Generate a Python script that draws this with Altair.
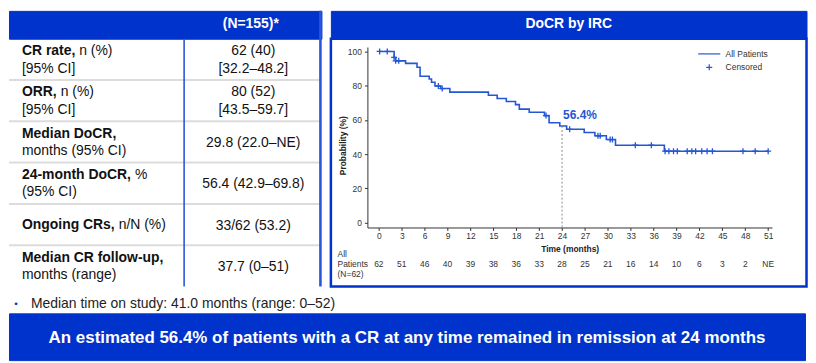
import altair as alt
import pandas as pd

# ---------------- data ----------------
header_text = "(N=155)*"
row_names = ["CR rate", "ORR", "Median DoCR", "24-month DoCR", "Ongoing CRs", "Median CR follow-up"]
label_bold = ["CR rate,", "ORR,", "Median DoCR,", "24-month DoCR,", "Ongoing CRs,", "Median CR follow-up,"]
label_normal = ["n (%)", "n (%)", "", "%", "n/N (%)", ""]
label_line2 = ["[95% CI]", "[95% CI]", "months (95% CI)", "(95% CI)", "", "months (range)"]
value_line1 = ["62 (40)", "80 (52)", "29.8 (22.0–NE)", "56.4 (42.9–69.8)", "33/62 (53.2)", "37.7 (0–51)"]
value_line2 = ["[32.2–48.2]", "[43.5–59.7]", "", "", "", ""]

km_title = "DoCR by IRC"
step_times = [0, 2.0, 2.2, 3.5, 5.0, 5.4, 6.6, 6.9, 7.35, 8.1, 9.3, 14.35, 15.5, 16.7, 17.9, 18.4,
              19.7, 21.7, 22.3, 23.7, 24.6, 26.9, 28.3, 29.8, 31.0, 37.4, 51.0]
step_surv = [100, 96.5, 94.5, 93.0, 90.8, 85.5, 83.9, 82.0, 79.8, 78.3, 76.2, 74.4, 72.5, 70.7, 68.9, 66.3,
             64.5, 62.5, 58.3, 56.4, 54.5, 52.6, 50.7, 48.5, 45.2, 41.7, 41.7]
censor_times = [0.1, 1.1, 2.0, 2.2, 2.6, 7.8, 8.3, 21.9, 25.0, 28.7, 29.0, 30.3, 30.6, 33.6, 35.7,
                37.5, 38.0, 38.6, 39.1, 40.4, 41.0, 41.5, 42.3, 43.0, 43.7, 47.7, 49.3, 51.0]
landmark_time = 24
landmark_surv = 56.4
x_ticks = [0, 3, 6, 9, 12, 15, 18, 21, 24, 27, 30, 33, 36, 39, 42, 45, 48, 51]
y_ticks = [0, 20, 40, 60, 80, 100]
risk_counts = ["62", "51", "46", "40", "39", "38", "36", "33", "28", "25", "21", "16", "14", "10", "6", "3", "2", "NE"]
risk_group = ["All", "Patients", "(N=62)"]
legend_labels = ["All Patients", "Censored"]

note_text = "Median time on study: 41.0 months (range: 0–52)"
banner_text = "An estimated 56.4% of patients with a CR at any time remained in remission at 24 months"

# ---------------- style ----------------
BLUE = "#0033cc"
CURVE = "#2456d6"
FONT = "Liberation Sans"
INK = "#111111"
AX = "#333333"

AB = {' ': 278, ',': 278, '-': 333, '2': 556, '4': 556, 'C': 722, 'D': 722, 'O': 778, 'R': 722,
      'a': 556, 'e': 556, 'g': 611, 'h': 611, 'i': 278, 'm': 889, 'n': 611, 'o': 611, 'r': 389,
      's': 556, 't': 333}


def bold_w(s, fs=14):
    return sum(AB.get(ch, 600) for ch in s) * fs / 1000.0


SPACE_N = 278 * 14 / 1000.0
TABLE_H = 249
ROW_H = TABLE_H / len(row_names)

# ---------------- table ----------------
bold_recs, norm_recs, val_recs = [], [], []
for i, r in enumerate(row_names):
    c = i + 0.5
    two = label_line2[i] != ""
    y1 = -8.2 if two else 0.6
    bold_recs.append({"row": r, "text": label_bold[i], "xpos": 13.0, "ypos": c + y1 / ROW_H})
    if label_normal[i]:
        norm_recs.append({"row": r, "text": label_normal[i],
                          "xpos": 13.0 + bold_w(label_bold[i]) + SPACE_N, "ypos": c + y1 / ROW_H})
    if two:
        norm_recs.append({"row": r, "text": label_line2[i], "xpos": 13.0, "ypos": c + 9.3 / ROW_H})
    vtwo = value_line2[i] != ""
    val_recs.append({"row": r, "text": value_line1[i], "ypos": c + (-8.2 if vtwo else 1.2) / ROW_H})
    if vtwo:
        val_recs.append({"row": r, "text": value_line2[i], "ypos": c + 9.3 / ROW_H})

row_scale = alt.Scale(domain=[0, len(row_names)], range=[0, TABLE_H], nice=False, zero=False)
one = pd.DataFrame({"k": [0]})

sep = alt.Chart(pd.DataFrame({"edge": list(range(1, len(row_names)))})).mark_rule(
    color="#dcdcdc", strokeWidth=2).encode(
    y=alt.Y("edge:Q", scale=row_scale, axis=None), x=alt.value(0), x2=alt.value(314))
divider = alt.Chart(one).mark_rule(color="#2a55dd", strokeWidth=1.6).encode(
    x=alt.value(176), y=alt.value(0), y2=alt.value(TABLE_H))
border = alt.Chart(one).mark_rule(color="#2a55dd", strokeWidth=2.6).encode(
    x=alt.value(313), y=alt.value(-28), y2=alt.value(TABLE_H))
tb_bold = alt.Chart(pd.DataFrame(bold_recs)).mark_text(
    align="left", baseline="middle", fontSize=14, fontWeight="bold", color=INK, font=FONT).encode(
    x=alt.X("xpos:Q", scale=None, axis=None),
    y=alt.Y("ypos:Q", scale=row_scale, axis=None), text="text:N")
tb_norm = alt.Chart(pd.DataFrame(norm_recs)).mark_text(
    align="left", baseline="middle", fontSize=14, color=INK, font=FONT).encode(
    x=alt.X("xpos:Q", scale=None, axis=None),
    y=alt.Y("ypos:Q", scale=row_scale, axis=None), text="text:N")
tb_val = alt.Chart(pd.DataFrame(val_recs)).mark_text(
    align="center", baseline="middle", fontSize=14, color=INK, font=FONT).encode(
    x=alt.value(245.5),
    y=alt.Y("ypos:Q", scale=row_scale, axis=None), text="text:N")

table_body = alt.layer(sep, divider, border, tb_bold, tb_norm, tb_val).properties(
    width=314, height=TABLE_H, view=alt.ViewBackground(stroke="transparent", strokeWidth=0))
table_head = alt.Chart(pd.DataFrame({"t": [header_text]})).mark_text(
    fontSize=14, fontWeight="bold", color="white", font=FONT, baseline="middle").encode(
    x=alt.value(243), y=alt.value(13), text="t:N").properties(
    width=314, height=28, view=alt.ViewBackground(fill=BLUE, stroke=BLUE, strokeWidth=1))

# ---------------- KM panel ----------------
def surv_at(t):
    s = step_surv[0]
    for tt, ss in zip(step_times, step_surv):
        if tt <= t:
            s = ss
    return s


curve_df = pd.DataFrame({"time": step_times, "surv": step_surv})
censor_df = pd.DataFrame({"time": censor_times, "surv": [surv_at(t) for t in censor_times],
                          "type": ["Censored"] * len(censor_times)})
landmark_df = pd.DataFrame({"time": [landmark_time], "surv": [landmark_surv],
                            "label": [f"{landmark_surv}%"]})
risk_df = pd.DataFrame({"time": x_ticks, "count": risk_counts})
group_df = pd.DataFrame({"label": ["\n".join(risk_group)]})

x_scale = alt.Scale(domain=[-1.5, 51.5], range=[36.7, 443.3], nice=False, zero=False)
y_scale = alt.Scale(domain=[-2.9, 102.6], range=[189.7, 8.3], nice=False, zero=False)

x_axis = alt.Axis(values=x_ticks, title="Time (months)", offset=-59.3, grid=False, tickSize=3,
                  labelFontSize=8.5, labelFont=FONT, labelColor=AX, titleFont=FONT, titleFontSize=8.5,
                  titleFontWeight="bold", titleColor="#222222", domainColor=AX, tickColor=AX,
                  labelPadding=1.5, titleY=21.6, titleBaseline="middle", labelFlush=False,
                  labelOverlap=False)
y_axis = alt.Axis(values=y_ticks, title="Probability (%)", offset=-36.7, grid=False, tickSize=3,
                  labelFontSize=8.5, labelFont=FONT, labelColor=AX, titleFont=FONT, titleFontSize=8.5,
                  titleFontWeight="bold", titleColor="#222222", domainColor=AX, tickColor=AX,
                  labelPadding=3, titleX=-25, titleY=107, titleAngle=270, titleAlign="center",
                  titleBaseline="middle")

X = alt.X("time:Q", scale=x_scale, axis=x_axis)
Y = alt.Y("surv:Q", scale=y_scale, axis=y_axis)

LINE_PATH = "M-3.7,0H3.7"
CROSS_PATH = "M-1,0H1M0,-1V1M-3.7,0L-3.7,0M3.7,0L3.7,0"

curve = alt.Chart(curve_df).mark_line(interpolate="step-after", color=CURVE, strokeWidth=1.6).encode(
    x=X, y=Y)
ref_rule = alt.Chart(landmark_df).mark_rule(color="#8c8c8c", strokeDash=[2, 2], strokeWidth=1).encode(
    x=X, y=Y, y2=alt.value(189.7))
cens = alt.Chart(censor_df).mark_point(filled=False, size=36, strokeWidth=1.3, color=CURVE, opacity=1).encode(
    x=X, y=Y,
    shape=alt.Shape("type:N", scale=alt.Scale(domain=legend_labels, range=[LINE_PATH, CROSS_PATH]),
                    legend=alt.Legend(title=None, orient="none", legendX=699.5, legendY=39,
                                      labelFont=FONT, labelFontSize=8.5, labelColor=AX,
                                      labelOffset=12.2, symbolSize=36, symbolStrokeWidth=1.2,
                                      rowPadding=2.5, padding=0)))
lm_text = alt.Chart(landmark_df).mark_text(align="left", baseline="middle", dx=1, dy=-11, fontSize=12,
                                          fontWeight="bold", color=CURVE, font=FONT).encode(
    x=X, y=Y, text="label:N")
risk = alt.Chart(risk_df).mark_text(baseline="middle", fontSize=8.5, color=AX, font=FONT).encode(
    x=X, y=alt.value(226.3), text="count:N")
group = alt.Chart(group_df).mark_text(align="left", baseline="middle", fontSize=8.5, color=AX, font=FONT,
                                      lineBreak="\n", lineHeight=10).encode(
    x=alt.value(6.7), y=alt.value(216.3), text="label:N")

km_body = alt.layer(curve, ref_rule, cens, lm_text, risk, group).properties(
    width=478, height=249, view=alt.ViewBackground(fill="white", stroke=BLUE, strokeWidth=2.5))
km_head = alt.Chart(pd.DataFrame({"t": [km_title]})).mark_text(
    fontSize=14, fontWeight="bold", color="white", font=FONT, baseline="middle").encode(
    x=alt.value(239), y=alt.value(13), text="t:N").properties(
    width=478, height=28, view=alt.ViewBackground(fill=BLUE, stroke=BLUE, strokeWidth=1))

table_col = alt.vconcat(table_head, table_body, spacing=0, bounds="flush")
km_col = alt.vconcat(km_head, km_body, spacing=0, bounds="flush")
row1 = alt.hconcat(table_col, km_col, spacing=6.5)

# ---------------- note + banner ----------------
note_df = pd.DataFrame({"t": [note_text], "b": ["•"]})
bullet = alt.Chart(note_df).mark_text(align="center", baseline="middle", fontSize=10, color=BLUE,
                                      font=FONT).encode(x=alt.value(7), y=alt.value(16), text="b:N")
note_t = alt.Chart(note_df).mark_text(align="left", baseline="middle", fontSize=14, color="#222222",
                                      font=FONT).encode(x=alt.value(22), y=alt.value(16), text="t:N")
note = alt.layer(bullet, note_t).properties(
    width=800, height=24, view=alt.ViewBackground(stroke="transparent", strokeWidth=0))

banner = alt.Chart(pd.DataFrame({"t": [banner_text]})).mark_text(
    fontSize=17, fontWeight="bold", color="white", font=FONT, baseline="middle").encode(
    x=alt.value(400), y=alt.value(25), text="t:N").properties(
    width=800, height=47, view=alt.ViewBackground(fill=BLUE, stroke=BLUE, strokeWidth=1))

chart = alt.vconcat(row1, note, banner, spacing=0).properties(padding=0).configure(
    font=FONT).configure_view(strokeWidth=0)

chart.save("out.html", embed_options={"renderer": "svg", "actions": False})
